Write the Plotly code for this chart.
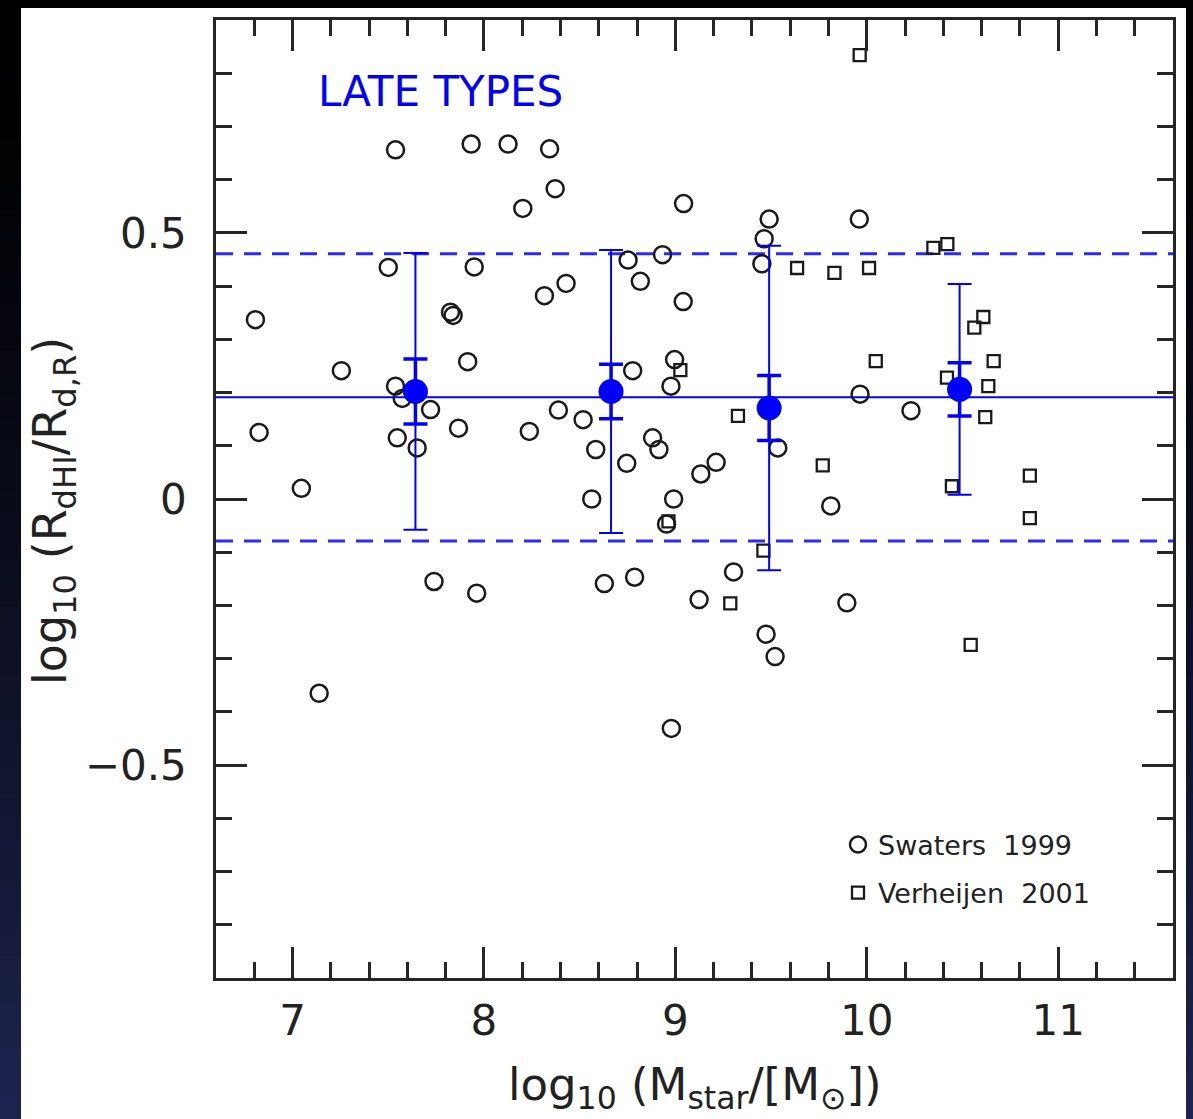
import plotly.graph_objects as go

# Swaters (1999) galaxies: log10 stellar mass and log10 of the HI / R-band disc scale-length ratio
swaters_logm = [6.806, 6.825, 7.046, 7.139, 7.255, 7.500, 7.538, 7.538, 7.547, 7.573,
                7.651, 7.721, 7.739, 7.825, 7.839, 7.867, 7.915, 7.933, 7.949, 7.962,
                8.126, 8.203, 8.237, 8.316, 8.343, 8.372, 8.389, 8.429, 8.518, 8.563,
                8.584, 8.629, 8.746, 8.753, 8.777, 8.787, 8.817, 8.881, 8.914, 8.933,
                8.954, 8.977, 8.979, 8.991, 8.996, 9.041, 9.043, 9.124, 9.133, 9.213,
                9.304, 9.452, 9.464, 9.474, 9.490, 9.521, 9.535, 9.812, 9.896, 9.961,
                9.965, 10.231]
swaters_ratio = [0.337, 0.125, 0.020, -0.365, 0.241, 0.435, 0.656, 0.212, 0.115, 0.189,
                 0.096, 0.168, -0.155, 0.351, 0.345, 0.133, 0.258, 0.667, 0.436, -0.177,
                 0.667, 0.546, 0.127, 0.382, 0.658, 0.583, 0.167, 0.405, 0.149, 0.000,
                 0.093, -0.159, 0.067, 0.449, 0.241, -0.147, 0.409, 0.115, 0.093, 0.459,
                 -0.047, 0.212, -0.431, 0.000, 0.262, 0.371, 0.555, -0.189, 0.047, 0.069,
                 -0.137, 0.442, 0.489, -0.254, 0.526, -0.296, 0.096, -0.013, -0.195, 0.526,
                 0.197, 0.166]

# Verheijen (2001) galaxies
verheijen_logm = [8.964, 9.026, 9.287, 9.327, 9.460, 9.636, 9.770, 9.831, 9.963, 10.012,
                  10.047, 10.348, 10.419, 10.421, 10.445, 10.543, 10.562, 10.609, 10.619,
                  10.635, 10.663, 10.852, 10.852]
verheijen_ratio = [-0.042, 0.242, -0.196, 0.156, -0.097, 0.434, 0.063, 0.425, 0.834, 0.434,
                   0.259, 0.472, 0.228, 0.479, 0.024, -0.274, 0.322, 0.342, 0.154,
                   0.212, 0.259, 0.044, -0.036]

# Binned means: error on the mean (thick bars) and bin scatter (thin bars)
bin_logm = [7.642, 8.664, 9.490, 10.485]
bin_mean = [0.202, 0.202, 0.171, 0.206]
bin_err_mean = [0.061, 0.051, 0.061, 0.050]
bin_scatter = [0.260, 0.266, 0.305, 0.198]

# Whole-sample mean and 1-sigma scatter
overall_mean = 0.191
overall_scatter = 0.270

panel_label = "LATE TYPES"
legend_names = ["Swaters\u00a0 1999", "Verheijen\u00a0 2001"]

# ---- page geometry (pixels) ----
FIG_W, FIG_H = 1193, 1119
PL, PR, PT, PB = 216, 1173, 20, 978
PW, PH = PR - PL, PB - PT


def px_x(px):
    return (px - PL) / PW


def px_y(py):
    return (PB - py) / PH


FONT = "DejaVu Sans"
BLUE = "#0000ff"
FRAME = "#262626"
TEXT = "#222222"

fig = go.Figure()

# sample points
fig.add_trace(go.Scatter(
    x=swaters_logm, y=swaters_ratio, mode="markers", name=legend_names[0],
    marker=dict(symbol="circle-open", size=17, color="#1a1a1a", line=dict(width=2.5, color="#1a1a1a")),
    legend="legend", hoverinfo="x+y"))
fig.add_trace(go.Scatter(
    x=verheijen_logm, y=verheijen_ratio, mode="markers", name=legend_names[1],
    marker=dict(symbol="square-open", size=12, color="#1a1a1a", line=dict(width=2.3, color="#1a1a1a")),
    legend="legend2", hoverinfo="x+y"))

# bin scatter (thin bars)
fig.add_trace(go.Scatter(
    x=bin_logm, y=bin_mean, mode="markers", showlegend=False, hoverinfo="skip",
    marker=dict(size=1, color="rgba(0,0,0,0)"),
    error_y=dict(type="data", array=bin_scatter, color=BLUE, thickness=2, width=12)))
# error on the mean (thick bars)
fig.add_trace(go.Scatter(
    x=bin_logm, y=bin_mean, mode="markers", showlegend=False, hoverinfo="skip",
    marker=dict(size=1, color="rgba(0,0,0,0)"),
    error_y=dict(type="data", array=bin_err_mean, color=BLUE, thickness=3.5, width=12)))
# bin means
fig.add_trace(go.Scatter(
    x=bin_logm, y=bin_mean, mode="markers", showlegend=False,
    marker=dict(symbol="circle", size=25, color=BLUE)))

shapes = []

# dark backdrop with a vertical black-to-navy gradient
n_bands = 48
for i in range(n_bands):
    t = ((i + 0.5) / n_bands) ** 1.4
    r, g, b = int(30 * t), int(36 * t), int(80 * t)
    y_top = i * FIG_H / n_bands
    y_bot = (i + 1) * FIG_H / n_bands + 1
    shapes.append(dict(type="rect", xref="paper", yref="paper", layer="below",
                       x0=px_x(0), x1=px_x(FIG_W), y0=px_y(y_bot), y1=px_y(y_top),
                       fillcolor=f"rgb({r},{g},{b})", line=dict(width=0)))

# white sheet behind the frame
shapes.append(dict(type="rect", xref="paper", yref="paper", layer="below",
                   x0=px_x(21), x1=px_x(1186), y0=px_y(FIG_H + 2), y1=px_y(8),
                   fillcolor="white", line=dict(width=0)))

# whole-sample mean and scatter lines
shapes.append(dict(type="line", xref="x domain", yref="y", layer="below",
                   x0=0, x1=1, y0=overall_mean, y1=overall_mean,
                   line=dict(color=BLUE, width=2)))
for s in (overall_mean + overall_scatter, overall_mean - overall_scatter):
    shapes.append(dict(type="line", xref="x domain", yref="y", layer="below",
                       x0=0, x1=1, y0=s, y1=s,
                       line=dict(color="#2a2aff", width=3, dash="17px,11px")))

annotations = [
    dict(text=panel_label, x=7.12, y=0.766, xref="x", yref="y", xanchor="left", yanchor="middle",
         showarrow=False, font=dict(family=FONT, size=42, color=BLUE)),
    dict(text="log<sub>10</sub> (M<sub>star</sub>/[M<sub>⊙</sub>])",
         x=0.5, y=px_y(1056), xref="paper", yref="paper", xanchor="center", yanchor="top",
         showarrow=False, font=dict(family=FONT, size=45, color=TEXT)),
    dict(text="log<sub>10</sub> (R<sub>dHI</sub>/R<sub>d,R</sub>)", textangle=-90,
         x=px_x(53), y=px_y(511), xref="paper", yref="paper", xanchor="center", yanchor="middle",
         showarrow=False, font=dict(family=FONT, size=46, color=TEXT)),
]

axis_common = dict(showgrid=False, zeroline=False, showline=True, linecolor=FRAME, linewidth=2.5,
                   mirror="allticks", ticks="inside", ticklen=31, tickwidth=2.5, tickcolor=FRAME,
                   tickfont=dict(family=FONT, size=42, color=TEXT))

fig.update_layout(
    width=FIG_W, height=FIG_H,
    margin=dict(l=PL, r=FIG_W - PR, t=PT, b=FIG_H - PB, autoexpand=False),
    paper_bgcolor="black", plot_bgcolor="white",
    xaxis=dict(range=[6.6, 11.6], tickmode="linear", tick0=7, dtick=1, ticklabelstandoff=4,
               minor=dict(tick0=7, dtick=0.2, ticks="inside", ticklen=16, tickwidth=2.5,
                          tickcolor=FRAME, showgrid=False),
               **axis_common),
    yaxis=dict(range=[-0.9, 0.9], tickmode="linear", tick0=0, dtick=0.5, ticklabelstandoff=18,
               minor=dict(tick0=0, dtick=0.1, ticks="inside", ticklen=16, tickwidth=2.5,
                          tickcolor=FRAME, showgrid=False),
               **axis_common),
    shapes=shapes,
    annotations=annotations,
    legend=dict(x=px_x(838), y=px_y(845), xanchor="left", yanchor="middle",
                bgcolor="rgba(0,0,0,0)", borderwidth=0,
                font=dict(family=FONT, size=27, color=TEXT)),
    legend2=dict(x=px_x(838), y=px_y(893), xanchor="left", yanchor="middle",
                 bgcolor="rgba(0,0,0,0)", borderwidth=0,
                 font=dict(family=FONT, size=27, color=TEXT)),
    showlegend=True,
)

fig.write_html("out.html")
